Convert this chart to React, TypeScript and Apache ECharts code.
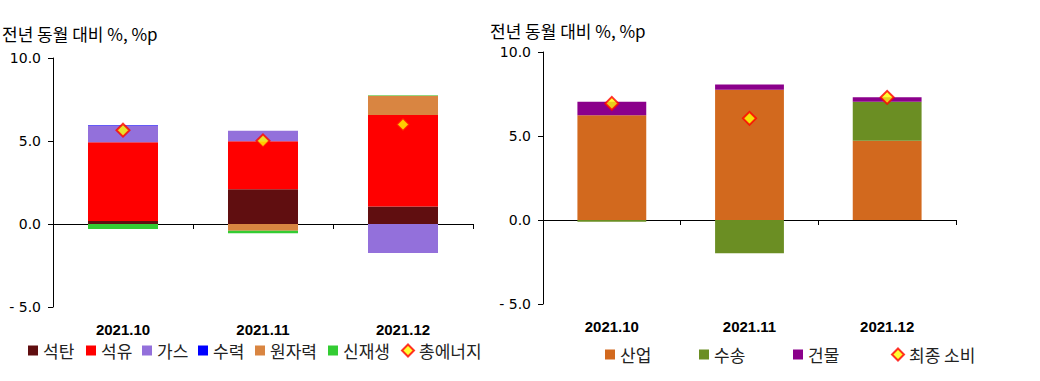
import React, { useEffect, useRef } from "react";
import * as echarts from "echarts";

const categories = ["2021.10", "2021.11", "2021.12"];
const yTicks = [-5, 0, 5, 10];

// Left chart: energy sources
const coal = [0.18, 2.1, 1.06];
const oil = [4.75, 2.89, 5.51];
const gas = [1.0, 0.62, -1.74];
const hydro = [0.03, 0.0, 0.0];
const nuclear = [0.0, -0.4, 1.15];
const renewable = [-0.3, -0.16, 0.04];
const totalEnergy = [5.65, 5.01, 5.99];

// Right chart: final consumption sectors
const industry = [6.23, 7.76, 4.72];
const transport = [-0.1, -1.98, 2.32];
const building = [0.81, 0.3, 0.26];
const finalConsumption = [6.94, 6.05, 7.3];

const leftSeries = [
  { name: "석탄", data: coal, color: "#600E10" },
  { name: "석유", data: oil, color: "#FF0000" },
  { name: "가스", data: gas, color: "#9370DB" },
  { name: "수력", data: hydro, color: "#0000FF" },
  { name: "원자력", data: nuclear, color: "#D98541" },
  { name: "신재생", data: renewable, color: "#33CC33" },
];
const rightSeries = [
  { name: "산업", data: industry, color: "#D2691E" },
  { name: "수송", data: transport, color: "#6B8E23" },
  { name: "건물", data: building, color: "#8B008B" },
];

const FONT = "'Liberation Sans', Arial, sans-serif";
const NFONT = "'DejaVu Sans', sans-serif";
const KFONT = "'Noto Sans CJK KR', sans-serif";

export default function App() {
  const ref = useRef<HTMLDivElement>(null);
  useEffect(() => {
    if (!ref.current) return;
    const chart = echarts.init(ref.current, null, { renderer: "svg" });

    const grids = [
      { left: 53, top: 58, width: 420, height: 249 },
      { left: 543, top: 52, width: 413, height: 252 },
    ];

    const xAxes: any[] = [];
    const yAxes: any[] = [];
    grids.forEach((g, i) => {
      xAxes.push({
        type: "category",
        gridIndex: i,
        data: categories,
        boundaryGap: true,
        axisLine: { onZero: true, lineStyle: { color: "#000", width: 1 } },
        axisTick: { show: true, length: 5, lineStyle: { color: "#000" } },
        axisLabel: { show: false },
      });
      xAxes.push({
        type: "category",
        gridIndex: i,
        data: categories,
        position: "bottom",
        axisLine: { show: false, onZero: false },
        axisTick: { show: false },
        axisLabel: {
          show: true,
          margin: 15,
          fontFamily: FONT,
          fontSize: 15,
          fontWeight: "bold",
          color: "#000",
        },
      });
      yAxes.push({
        type: "value",
        gridIndex: i,
        min: yTicks[0],
        max: yTicks[yTicks.length - 1],
        interval: 5,
        axisLine: { show: true, lineStyle: { color: "#000", width: 1 } },
        axisTick: { show: true, length: 5, lineStyle: { color: "#000" } },
        splitLine: { show: false },
        axisLabel: {
          margin: 12,
          fontFamily: NFONT,
          fontSize: 14,
          color: "#000",
          formatter: (v: number) => (v < 0 ? "- " + Math.abs(v).toFixed(1) : v.toFixed(1)),
        },
      });
    });

    const series: any[] = [];
    leftSeries.forEach((s) => {
      series.push({
        type: "bar",
        name: s.name,
        xAxisIndex: 0,
        yAxisIndex: 0,
        stack: "left",
        barWidth: "50%",
        data: s.data,
        itemStyle: { color: s.color },
      });
    });
    series.push({
      type: "scatter",
      name: "총에너지",
      xAxisIndex: 0,
      yAxisIndex: 0,
      symbol: "diamond",
      symbolSize: 13,
      data: totalEnergy,
      itemStyle: { color: "#FFFF00", borderColor: "#FF0000", borderWidth: 2 },
      z: 5,
    });
    rightSeries.forEach((s) => {
      series.push({
        type: "bar",
        name: s.name,
        xAxisIndex: 2,
        yAxisIndex: 1,
        stack: "right",
        barWidth: "50%",
        data: s.data,
        itemStyle: { color: s.color },
      });
    });
    series.push({
      type: "scatter",
      name: "최종 소비",
      xAxisIndex: 2,
      yAxisIndex: 1,
      symbol: "diamond",
      symbolSize: 13,
      data: finalConsumption,
      itemStyle: { color: "#FFFF00", borderColor: "#FF0000", borderWidth: 2 },
      z: 5,
    });

    const legendText = { fontFamily: KFONT, fontSize: 17, color: "#222" };
    const leftLegendX = [28, 86, 142, 198, 255, 328, 401];
    const leftNames = [...leftSeries.map((s) => s.name), "총에너지"];
    const rightLegendX = [605, 699, 793, 891];
    const rightNames = [...rightSeries.map((s) => s.name), "최종 소비"];
    const legends: any[] = [];
    const mk = (n: string, x: number, top: number, isDiamond: boolean) => ({
      data: [n],
      left: x,
      top,
      icon: isDiamond ? "diamond" : "rect",
      itemWidth: isDiamond ? 12 : 10,
      itemHeight: isDiamond ? 12 : 10,
      itemGap: 0,
      padding: 0,
      textStyle: legendText,
    });
    leftNames.forEach((n, i) => legends.push(mk(n, leftLegendX[i], 342, n === "총에너지")));
    rightNames.forEach((n, i) => legends.push(mk(n, rightLegendX[i], 346, n === "최종 소비")));

    chart.setOption({
      animation: false,
      backgroundColor: "#fff",
      grid: grids.map((g) => ({ ...g, containLabel: false })),
      xAxis: xAxes,
      yAxis: yAxes,
      legend: legends,
      series,
      graphic: [
        {
          type: "text",
          left: 2,
          top: 25,
          style: { text: "전년 동월 대비 %, %p", fontFamily: KFONT, fontSize: 17, fill: "#000" },
        },
        {
          type: "text",
          left: 490,
          top: 22,
          style: { text: "전년 동월 대비 %, %p", fontFamily: KFONT, fontSize: 17, fill: "#000" },
        },
      ],
    });
    return () => chart.dispose();
  }, []);
  return (
    <div
      ref={ref}
      style={{ position: "fixed", left: 0, top: 0, width: 1040, height: 381, background: "#fff" }}
    />
  );
}
